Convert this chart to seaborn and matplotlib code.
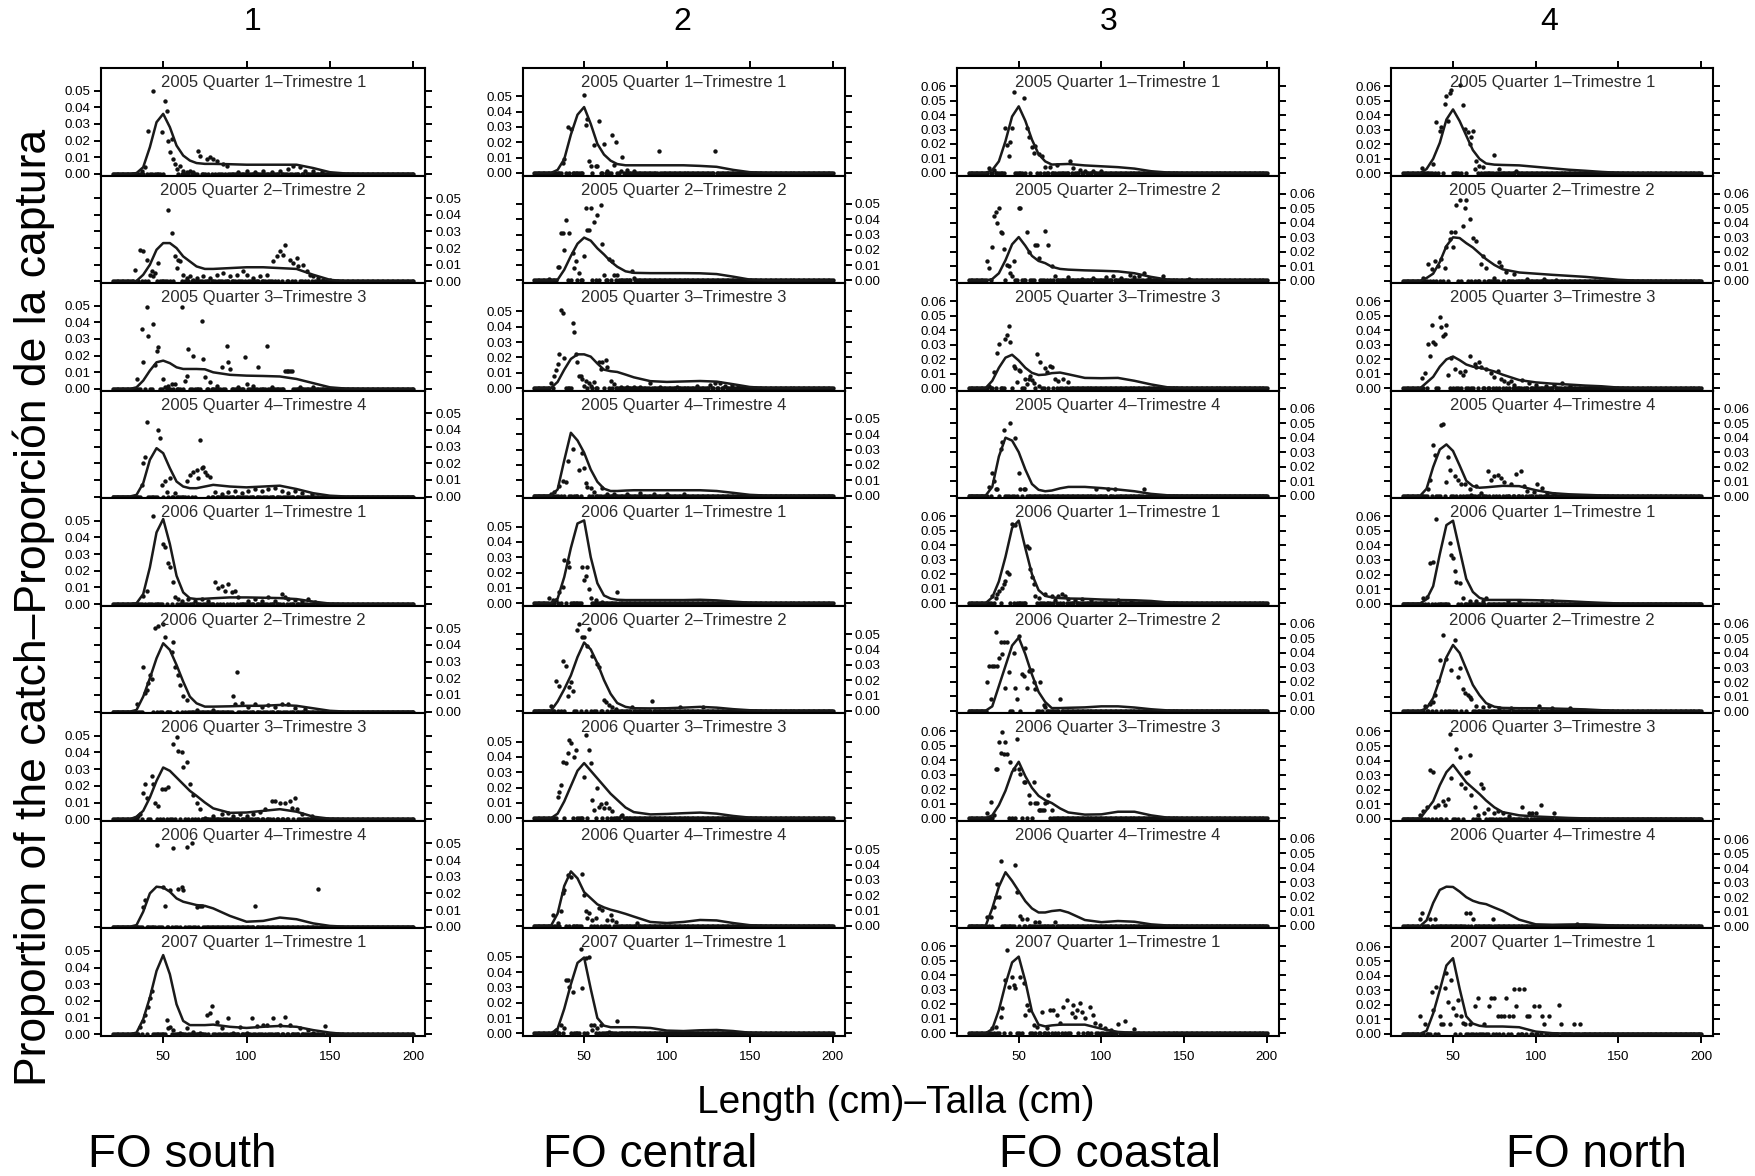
import numpy as np
import pandas as pd
import matplotlib
matplotlib.use("Agg")
import matplotlib.pyplot as plt
import seaborn as sns

sns.set_theme(style="white")
plt.rcParams["font.family"] = ["Liberation Sans", "DejaVu Sans"]

# ---------------------------------------------------------------- labels
regions = ["FO south", "FO central", "FO coastal", "FO north"]
region_numbers = ["1", "2", "3", "4"]
periods = [
    "2005 Quarter 1–Trimestre 1", "2005 Quarter 2–Trimestre 2",
    "2005 Quarter 3–Trimestre 3", "2005 Quarter 4–Trimestre 4",
    "2006 Quarter 1–Trimestre 1", "2006 Quarter 2–Trimestre 2",
    "2006 Quarter 3–Trimestre 3", "2006 Quarter 4–Trimestre 4",
    "2007 Quarter 1–Trimestre 1",
]
x_ticks = [50, 100, 150, 200]
y_ticks = [[0, .01, .02, .03, .04, .05], [0, .01, .02, .03, .04, .05],
           [0, .01, .02, .03, .04, .05, .06], [0, .01, .02, .03, .04, .05, .06]]

# length classes (cm) sampled in the catch
length_classes = np.arange(20, 201)

# lengths (cm) at which the fitted curves are tabulated
fit_lengths = [20, 30, 34, 38, 42, 46, 50, 54, 58, 62, 66, 70, 75, 80,
               90, 100, 110, 120, 130, 140, 150, 160, 170, 200]

# ---------------------------------------------------------------- fitted curves
south_fit = [
    [0, 0, .0005, .004, .016, .031, .036, .028, .017, .011, .008, .0065, .006, .006, .0058, .0055, .0055, .0055, .0055, .0035, .001, .0002, 0, 0],
    [0, 0, .0003, .004, .010, .019, .023, .023, .020, .015, .012, .009, .0075, .0075, .008, .0085, .0085, .008, .0075, .004, .001, 0, 0, 0],
    [0, 0, .001, .005, .011, .016, .017, .0155, .013, .012, .012, .012, .0118, .010, .0085, .008, .0078, .0075, .006, .0035, .001, .0002, 0, 0],
    [0, 0, .001, .008, .022, .029, .026, .017, .009, .006, .005, .005, .006, .007, .006, .0055, .006, .0065, .0045, .002, .0005, 0, 0, 0],
    [0, 0, .0005, .006, .022, .043, .051, .036, .017, .007, .0035, .003, .0032, .0035, .004, .004, .0038, .0036, .003, .0015, .0003, 0, 0, 0],
    [0, 0, .001, .009, .020, .032, .041, .037, .028, .018, .009, .005, .003, .003, .0032, .0035, .0035, .004, .0035, .002, .0005, 0, 0, 0],
    [0, 0, .0015, .005, .013, .023, .031, .029, .025, .021, .017, .014, .010, .0065, .0038, .004, .005, .006, .0045, .0015, .0003, 0, 0, 0],
    [0, 0, .001, .009, .020, .024, .0235, .021, .017, .015, .014, .013, .0125, .011, .0065, .003, .0035, .0055, .0045, .002, .0005, 0, 0, 0],
    [0, 0, .001, .009, .022, .038, .0475, .036, .018, .008, .0055, .0055, .0055, .0058, .0045, .0038, .0045, .005, .0045, .0025, .001, 0, 0, 0],
]
central_fit = [
    [0, 0, .002, .009, .025, .038, .043, .032, .019, .012, .008, .0058, .005, .005, .005, .005, .005, .0046, .004, .002, .0005, 0, 0, 0],
    [0, 0, .0005, .007, .016, .024, .028, .026, .021, .017, .0125, .009, .006, .005, .0048, .0048, .0048, .0047, .0042, .0025, .0006, 0, 0, 0],
    [0, 0, .004, .012, .019, .022, .022, .0205, .016, .012, .011, .0105, .0088, .007, .0045, .004, .0043, .0046, .0042, .0025, .0007, 0, 0, 0],
    [0, 0, .004, .023, .041, .036, .028, .017, .009, .0045, .003, .003, .0033, .0035, .0035, .0035, .0035, .0035, .003, .0018, .0005, 0, 0, 0],
    [0, 0, .003, .017, .036, .052, .054, .030, .013, .005, .003, .0022, .002, .002, .002, .002, .002, .0022, .0018, .001, .0003, 0, 0, 0],
    [0, 0, .006, .014, .023, .035, .0445, .040, .031, .020, .011, .005, .0025, .0016, .0015, .0016, .002, .0025, .002, .001, .0003, 0, 0, 0],
    [0, 0, .003, .011, .021, .031, .036, .031, .026, .021, .016, .012, .007, .004, .0025, .0028, .0033, .0037, .003, .0015, .0004, 0, 0, 0],
    [0, 0, .008, .026, .0355, .031, .022, .018, .014, .012, .0105, .0094, .0078, .006, .0025, .0018, .0025, .0038, .0035, .0018, .0004, 0, 0, 0],
    [0, 0, .003, .016, .032, .046, .0495, .029, .010, .005, .004, .004, .004, .004, .0035, .0018, .0015, .002, .0022, .0015, .0004, 0, 0, 0],
]
coastal_fit = [
    [0, 0, .002, .008, .022, .039, .046, .036, .023, .013, .008, .0058, .006, .0062, .0052, .0046, .004, .003, .0012, .0003, 0, 0, 0, 0],
    [0, 0, .001, .005, .014, .025, .030, .024, .017, .0135, .012, .0095, .008, .0075, .007, .0067, .0063, .005, .0025, .0006, 0, 0, 0, 0],
    [0, 0, .005, .014, .021, .023, .019, .014, .0105, .009, .0093, .0103, .0107, .0095, .007, .0068, .007, .005, .0025, .0005, 0, 0, 0, 0],
    [0, 0, .006, .027, .040, .038, .030, .018, .008, .004, .003, .0035, .005, .006, .006, .0052, .0042, .003, .0012, .0002, 0, 0, 0, 0],
    [0, 0, .004, .015, .032, .052, .057, .038, .020, .009, .005, .004, .0035, .0032, .003, .0025, .0022, .002, .0015, .0005, .0001, 0, 0, 0],
    [0, 0, .003, .017, .031, .045, .0505, .039, .025, .013, .006, .0018, .0018, .002, .0023, .003, .003, .0022, .001, .0002, 0, 0, 0, 0],
    [0, 0, .002, .009, .019, .032, .039, .029, .021, .0155, .0125, .0105, .0068, .004, .0025, .0027, .0045, .0045, .002, .0004, 0, 0, 0, 0],
    [0, 0, .012, .027, .037, .031, .024, .017, .012, .0092, .0092, .0102, .0108, .0092, .004, .0025, .0033, .0028, .001, .0002, 0, 0, 0, 0],
    [0, 0, .003, .016, .034, .049, .053, .036, .015, .006, .0048, .0055, .006, .006, .006, .0032, .001, .0003, 0, 0, 0, 0, 0, 0],
]
north_fit = [
    [0, 0, .003, .010, .021, .037, .044, .036, .026, .016, .010, .0068, .006, .0058, .0055, .0045, .0035, .0025, .0018, .001, .0004, .0001, 0, 0],
    [0, 0, .002, .005, .013, .024, .030, .0295, .026, .023, .019, .015, .011, .008, .0058, .005, .0042, .0035, .0028, .0018, .0008, .0002, 0, 0],
    [0, 0, .004, .008, .015, .020, .022, .0195, .0165, .015, .0142, .0133, .0117, .0095, .0058, .0042, .0033, .0027, .002, .0015, .0006, .0001, 0, 0],
    [0, 0, .005, .020, .032, .0355, .031, .021, .0105, .0068, .0057, .006, .0065, .007, .0068, .004, .002, .0012, .0008, .0004, .0001, 0, 0, 0],
    [0, 0, .003, .012, .034, .054, .057, .037, .017, .008, .004, .0025, .0025, .0025, .0025, .0023, .002, .0016, .001, .0005, .0001, 0, 0, 0],
    [0, 0, .002, .009, .022, .037, .0455, .040, .029, .018, .011, .0055, .003, .0022, .002, .002, .0018, .0015, .0012, .0006, .0001, 0, 0, 0],
    [0, 0, .006, .012, .023, .032, .037, .031, .025, .021, .017, .0125, .0078, .0045, .0023, .0015, .001, .0005, .0002, 0, 0, 0, 0, 0],
    [0, 0, .004, .016, .025, .0272, .027, .0238, .020, .0175, .016, .0152, .0128, .0105, .0045, .0013, .001, .0012, .0013, .0008, .0004, .0001, 0, 0],
    [0, 0, .002, .014, .030, .047, .052, .031, .012, .007, .0055, .005, .005, .005, .0045, .0015, .0004, .0001, 0, 0, 0, 0, 0, 0],
]

# ---------------------------------------------------------------- observed proportions
# (length cm, proportion) for length classes with catch; other classes are zero
south_obs = [
    [(37, .002), (39, .004), (41, .026), (44, .050), (49, .025), (51, .044), (52, .038), (53, .020), (54, .013), (55, .021), (56, .009), (57, .006), (58, .003), (60, .005), (62, .002), (64, .001), (66, .002), (68, .001), (71, .014), (72, .011), (76, .009), (78, .010), (80, .009), (82, .008), (86, .006), (88, .005), (95, .001), (100, .002), (105, .001), (110, .002), (115, .001), (120, .002), (125, .003), (128, .005), (132, .004), (135, .002), (140, .002), (145, .001)],
    [(33, .007), (36, .019), (38, .018), (40, .013), (42, .004), (43, .006), (44, .003), (45, .005), (47, .011), (53, .043), (55, .029), (57, .015), (58, .008), (59, .013), (60, .012), (62, .004), (64, .002), (66, .003), (68, .001), (70, .002), (74, .003), (78, .002), (82, .004), (86, .005), (90, .003), (94, .004), (98, .006), (100, .004), (104, .002), (108, .003), (112, .004), (116, .012), (118, .015), (120, .018), (122, .016), (123, .022), (126, .013), (128, .011), (130, .014), (131, .009), (134, .010), (136, .006), (138, .004), (140, .003), (143, .002), (146, .001), (150, .001)],
    [(34, .006), (37, .036), (38, .016), (40, .049), (41, .032), (44, .039), (45, .0145), (46, .023), (47, .025), (50, .006), (51, .001), (53, .002), (55, .003), (57, .003), (61, .049), (63, .0045), (64, .008), (65, .024), (68, .020), (73, .041), (74, .018), (75, .007), (78, .004), (82, .002), (85, .013), (88, .026), (89, .016), (90, .012), (95, .001), (99, .019), (100, .003), (104, .002), (107, .013), (112, .026), (115, .001), (123, .0105), (124, .0105), (125, .0105), (126, .0105), (127, .0105), (132, .001), (140, .001)],
    [(37, .007), (38, .020), (39, .024), (40, .0445), (47, .040), (48, .035), (49, .007), (51, .0095), (52, .003), (54, .011), (57, .002), (64, .0095), (66, .013), (68, .0145), (70, .016), (71, .011), (72, .034), (73, .017), (74, .018), (75, .0145), (76, .013), (78, .012), (81, .0025), (85, .0015), (89, .0025), (93, .0033), (97, .002), (101, .0033), (105, .0045), (109, .0033), (113, .0045), (117, .0053), (121, .0033), (125, .002), (129, .0033), (133, .002), (139, .0015)],
    [(38, .005), (40, .008), (44, .053), (50, .036), (51, .0345), (53, .0245), (54, .022), (56, .013), (57, .0045), (59, .003), (61, .002), (65, .003), (69, .002), (73, .003), (77, .002), (81, .013), (83, .0095), (85, .011), (87, .008), (89, .012), (91, .007), (93, .008), (95, .0045), (101, .002), (105, .003), (109, .002), (113, .0045), (117, .002), (121, .006), (123, .0045), (125, .003), (129, .0025), (133, .002), (137, .003), (141, .0015)],
    [(34, .0045), (38, .027), (39, .011), (40, .013), (41, .017), (42, .022), (43, .0195), (45, .050), (47, .0515), (50, .0525), (51, .045), (55, .036), (56, .0415), (57, .027), (59, .022), (60, .016), (62, .0095), (64, .007), (70, .001), (80, .001), (92, .0095), (93, .0045), (94, .024), (97, .005), (101, .003), (105, .0045), (109, .003), (113, .004), (117, .003), (121, .0045), (125, .0045), (129, .002), (135, .0015)],
    [(35, .002), (36, .003), (38, .016), (39, .021), (40, .013), (43, .026), (44, .021), (45, .0095), (47, .008), (49, .018), (51, .018), (53, .0195), (56, .045), (58, .0495), (59, .041), (61, .040), (62, .0315), (64, .0345), (66, .021), (68, .0145), (70, .0095), (72, .006), (75, .001), (80, .002), (85, .003), (89, .004), (92, .002), (96, .003), (100, .002), (104, .003), (108, .0045), (111, .006), (115, .011), (117, .011), (120, .0095), (123, .010), (126, .011), (127, .007), (129, .0125), (130, .006), (133, .003), (139, .002)],
    [(38, .012), (39, .016), (46, .049), (50, .024), (51, .0125), (54, .022), (56, .0475), (59, .0225), (61, .024), (62, .022), (64, .048), (67, .050), (70, .012), (72, .0125), (73, .0125), (105, .0125), (143, .0225)],
    [(36, .0045), (38, .008), (39, .0115), (41, .0165), (42, .0215), (43, .026), (52, .0085), (53, .0036), (54, .0045), (56, .0026), (60, .001), (64, .0036), (68, .0016), (72, .001), (76, .0116), (78, .0126), (79, .017), (82, .0076), (85, .0036), (89, .0096), (92, .001), (96, .0046), (100, .001), (103, .0096), (106, .005), (110, .0056), (112, .0056), (116, .0096), (120, .0056), (123, .0106), (126, .0056), (132, .0036), (137, .0026), (140, .001), (147, .005)],
]
central_obs = [
    [(37, .0068), (38, .009), (40, .0297), (42, .029), (50, .0507), (51, .031), (52, .035), (53, .008), (54, .0046), (56, .018), (57, .0046), (58, .0046), (59, .034), (62, .0187), (64, .001), (67, .0247), (68, .005), (69, .020), (72, .001), (73, .0103), (76, .002), (80, .001), (95, .0146), (129, .0146)],
    [(29, .001), (34, .009), (35, .009), (36, .031), (37, .031), (38, .020), (39, .0397), (41, .031), (43, .018), (44, .008), (45, .013), (47, .0046), (50, .016), (51, .0475), (52, .033), (53, .033), (54, .047), (56, .0381), (58, .043), (60, .049), (61, .024), (62, .0034), (65, .0138), (67, .0126), (68, .0034), (70, .0034), (79, .006), (80, .0016)],
    [(30, .0035), (32, .008), (33, .0115), (34, .016), (35, .022), (36, .0508), (37, .049), (38, .0196), (43, .0427), (44, .0363), (45, .022), (46, .0173), (47, .008), (48, .008), (49, .0058), (50, .0012), (51, .0046), (53, .0035), (54, .0012), (56, .0042), (59, .0173), (60, .0127), (61, .0173), (63, .0185), (64, .0139), (66, .0046), (68, .0028), (72, .001), (76, .001), (80, .0008), (84, .001), (90, .0035), (96, .001), (106, .001), (118, .0015), (126, .0023), (129, .0035), (132, .0035), (135, .0015), (139, .002), (143, .001)],
    [(30, .001), (32, .0024), (35, .006), (37, .0094), (39, .0087), (40, .0224), (43, .0307), (47, .0165), (49, .028), (50, .0177), (51, .0083), (52, .0059), (54, .0047), (56, .0024), (61, .0047), (64, .001), (68, .0008), (76, .001), (84, .0015), (92, .001), (100, .0008), (110, .001)],
    [(29, .0035), (31, .002), (33, .002), (35, .007), (37, .0105), (38, .028), (40, .027), (41, .0235), (49, .0235), (50, .015), (51, .0176), (52, .0235), (53, .0094), (54, .0035), (57, .0023), (61, .001), (70, .007)],
    [(30, .0033), (33, .0196), (35, .0163), (37, .0326), (39, .0293), (40, .0098), (41, .0152), (42, .0185), (43, .013), (46, .0526), (47, .0565), (49, .0478), (50, .0483), (52, .0424), (53, .0533), (55, .0359), (58, .0304), (59, .0283), (62, .007), (63, .0054), (65, .004), (67, .0022), (69, .001), (79, .0022), (91, .0065), (108, .0022), (122, .0022)],
    [(34, .0141), (35, .0174), (36, .0217), (37, .037), (39, .0359), (40, .0424), (41, .051), (42, .049), (44, .0402), (45, .0446), (50, .0272), (51, .0543), (53, .0446), (54, .0359), (55, .012), (56, .0054), (58, .0196), (59, .0076), (60, .0093), (62, .0065), (63, .0098), (65, .0065), (67, .005), (72, .0015), (73, .002)],
    [(31, .0072), (34, .0017), (36, .0094), (37, .0214), (38, .0231), (40, .0334), (42, .0319), (49, .034), (50, .0203), (51, .0094), (52, .005), (53, .0083), (55, .0039), (57, .005), (59, .0116), (61, .0105), (64, .0039), (66, .0072), (67, .0039), (69, .0028), (82, .0017)],
    [(33, .002), (36, .0054), (38, .0033), (39, .0348), (40, .0348), (41, .0304), (43, .0272), (48, .0548), (49, .0293), (51, .049), (53, .0496), (54, .0054), (55, .002), (56, .0054), (58, .0033), (60, .0054), (65, .001), (70, .0083)],
]
coastal_obs = [
    [(32, .0031), (35, .0019), (42, .031), (43, .0194), (44, .0116), (45, .0213), (46, .031), (47, .0557), (53, .0516), (55, .031), (56, .025), (58, .0177), (59, .014), (60, .0189), (62, .0128), (64, .0116), (66, .0044), (69, .0044), (73, .0056), (81, .008), (83, .0031), (87, .0019), (90, .001), (95, .0015), (100, .001)],
    [(31, .0133), (32, .0085), (34, .023), (35, .0449), (36, .0473), (37, .04), (38, .0498), (39, .0333), (40, .0328), (41, .0218), (43, .0109), (44, .0097), (45, .0049), (46, .0029), (47, .0133), (50, .0502), (51, .0502), (55, .0333), (56, .0194), (60, .0243), (61, .0243), (62, .0158), (66, .034), (68, .0243), (70, .0097), (72, .0032), (80, .0024), (88, .001), (95, .0015), (103, .0024), (107, .0032), (112, .002), (117, .0036), (120, .0025), (123, .0032), (126, .0049), (129, .0017), (137, .0032), (153, .0007)],
    [(32, .0017), (35, .0113), (37, .0245), (38, .0305), (42, .034), (43, .0365), (44, .0432), (45, .0317), (47, .0153), (48, .0137), (49, .0041), (50, .0125), (51, .012), (54, .0065), (55, .0029), (56, .0065), (57, .0084), (58, .0053), (59, .0034), (61, .0233), (62, .0017), (63, .0177), (66, .0137), (67, .0113), (69, .0149), (70, .0144), (72, .0065), (74, .0048), (77, .0065), (80, .0041)],
    [(32, .0056), (34, .0153), (35, .0104), (36, .0048), (37, .0048), (39, .0322), (40, .037), (41, .0455), (45, .050), (48, .040), (50, .0153), (51, .0048), (53, .0048), (54, .0048), (97, .0048), (104, .0048), (108, .0048), (126, .0048)],
    [(34, .0048), (36, .0036), (37, .006), (38, .0084), (40, .0108), (41, .0132), (42, .0155), (43, .0215), (44, .0203), (46, .055), (48, .054), (55, .0395), (56, .0383), (57, .0239), (58, .0179), (59, .0132), (60, .0048), (62, .0036), (66, .006), (70, .0048), (72, .0024), (74, .0048), (76, .006), (78, .0048), (80, .003), (84, .002), (88, .003), (94, .002), (102, .0015), (110, .002), (118, .001)],
    [(31, .0195), (32, .0309), (33, .008), (34, .0309), (35, .0309), (36, .0545), (37, .0309), (38, .0362), (39, .0476), (40, .0389), (41, .0476), (42, .016), (43, .0476), (44, .027), (47, .040), (48, .0156), (49, .008), (50, .0515), (52, .0252), (53, .024), (54, .0435), (55, .0156), (56, .0275), (57, .028), (58, .028), (59, .0195), (60, .0149), (63, .020), (65, .004), (66, .0023), (75, .008)],
    [(31, .0034), (33, .0114), (35, .0023), (36, .0343), (37, .0343), (38, .0526), (39, .045), (40, .0595), (41, .0446), (42, .0526), (43, .0446), (45, .0389), (47, .0343), (49, .0549), (50, .0343), (51, .0309), (53, .0252), (54, .0252), (56, .016), (57, .0103), (59, .0252), (60, .0103), (61, .0103), (62, .0057), (63, .0057), (64, .0057), (65, .0057), (66, .0103), (67, .0114), (68, .016), (70, .0057)],
    [(31, .0063), (33, .0063), (35, .013), (36, .0198), (37, .0288), (38, .0202), (39, .0445), (48, .0422), (49, .0231), (51, .0067), (52, .0045), (55, .0045), (60, .0029), (62, .0029), (72, .0029)],
    [(34, .0035), (36, .0046), (39, .0115), (40, .0173), (42, .037), (43, .0577), (44, .0323), (46, .039), (47, .0335), (48, .0312), (51, .039), (53, .0346), (54, .0127), (55, .0196), (56, .0162), (59, .0058), (61, .0046), (64, .015), (67, .0035), (69, .0162), (71, .0162), (73, .0127), (75, .0069), (77, .0185), (79, .0231), (82, .0139), (83, .0196), (84, .0115), (85, .0162), (87, .0208), (88, .015), (90, .0104), (93, .0185), (95, .0127), (96, .0069), (99, .0058), (102, .0035), (106, .002), (110, .0065), (114, .0088), (120, .0028)],
]
north_obs = [
    [(31, .0035), (38, .0065), (40, .0351), (42, .0293), (43, .0321), (45, .0479), (46, .053), (47, .0363), (48, .0553), (49, .0577), (54, .0605), (56, .0472), (57, .0302), (59, .0286), (60, .020), (61, .0247), (62, .029), (63, .003), (64, .0088), (66, .0053), (68, .0042), (75, .0123), (78, .003), (88, .0019)],
    [(32, .0023), (35, .0115), (37, .0081), (39, .0139), (41, .0104), (43, .015), (45, .0092), (46, .0231), (48, .0289), (49, .0335), (50, .0231), (51, .0335), (52, .052), (54, .0554), (56, .0381), (57, .0503), (58, .0554), (60, .0427), (62, .0296), (64, .0277), (67, .0115), (68, .0173), (70, .0092), (75, .0018), (78, .0127), (79, .0104), (82, .0058), (87, .0046), (95, .001), (105, .001), (112, .0008)],
    [(31, .0074), (33, .0108), (35, .0307), (36, .0222), (37, .0435), (38, .0321), (39, .0307), (42, .0491), (43, .042), (44, .0364), (45, .0378), (46, .0435), (47, .0094), (49, .0207), (51, .0131), (54, .0114), (56, .0094), (57, .0122), (60, .0222), (63, .0165), (64, .0151), (66, .0179), (67, .0151), (70, .0136), (73, .0108), (75, .008), (77, .0122), (79, .0065), (81, .0051), (83, .0037), (85, .0051), (87, .0023), (92, .0057), (96, .0037), (100, .0023), (106, .0017), (111, .0023), (116, .0037), (121, .0017)],
    [(35, .0051), (36, .0108), (38, .0351), (39, .028), (43, .0486), (44, .0494), (46, .0094), (47, .0266), (48, .018), (51, .0137), (53, .0108), (55, .008), (57, .008), (60, .0051), (61, .0009), (64, .0066), (67, .0023), (71, .0174), (73, .0108), (75, .0137), (77, .0143), (79, .0123), (81, .0094), (85, .008), (88, .0151), (91, .0171), (93, .0066), (95, .0037), (99, .0029), (101, .0086), (104, .0057), (107, .0023), (111, .0015)],
    [(32, .0037), (34, .0046), (36, .028), (38, .0286), (40, .058), (48, .0417), (49, .0337), (50, .0314), (51, .0223), (52, .0151), (54, .0143), (56, .0037), (60, .002), (64, .002), (68, .0015), (70, .0037), (83, .002), (90, .002), (104, .002), (110, .002)],
    [(33, .0037), (36, .0051), (38, .0066), (39, .0109), (41, .0209), (42, .0351), (44, .0523), (46, .036), (49, .0286), (51, .0486), (53, .0237), (54, .0294), (56, .0151), (57, .0123), (59, .0114), (60, .0094), (61, .008), (64, .0037), (68, .0029), (72, .0037), (78, .0023), (85, .0023), (102, .0037), (110, .0023), (121, .0023)],
    [(30, .0023), (32, .0051), (34, .008), (36, .0337), (38, .0323), (39, .008), (41, .0094), (44, .0123), (45, .0094), (47, .0137), (48, .058), (49, .028), (52, .048), (54, .0423), (55, .0237), (57, .0209), (58, .0314), (59, .0323), (60, .0437), (61, .0166), (63, .008), (65, .0023), (67, .0237), (68, .0209), (69, .0037), (71, .0066), (75, .0037), (77, .0051), (80, .0037), (84, .0017), (92, .008), (96, .0037), (98, .0037), (100, .0037), (103, .0094), (111, .0037)],
    [(30, .0047), (31, .0088), (36, .0047), (39, .0047), (58, .0088), (60, .0088), (62, .0047), (74, .0047), (125, .0014)],
    [(30, .0124), (33, .0069), (37, .029), (38, .0165), (40, .032), (42, .0119), (43, .0069), (44, .0069), (45, .0313), (46, .0416), (47, .0222), (48, .0069), (49, .037), (50, .0176), (52, .013), (53, .0229), (55, .0119), (56, .0073), (57, .0069), (60, .0069), (63, .0188), (65, .0245), (69, .0069), (72, .0188), (73, .0245), (75, .0245), (77, .0124), (79, .0124), (81, .0124), (82, .0245), (84, .0124), (86, .0124), (87, .0307), (88, .0188), (90, .0307), (93, .0307), (95, .0124), (96, .0124), (99, .0188), (102, .0188), (104, .0124), (105, .0069), (108, .0124), (114, .02), (115, .0069), (123, .0069), (127, .0069)],
]

fits = [south_fit, central_fit, coastal_fit, north_fit]
observations = [south_obs, central_obs, coastal_obs, north_obs]

# ---------------------------------------------------------------- layout (pixels)
W, H = 1756, 1176
col_left = [101.2, 522.5, 957.2, 1391.5]
col_width = [324.0, 322.0, 321.5, 321.5]
panel_top, panel_h = 68.0, 107.55
y_limits = [(-0.001, 0.0635), (-0.0017, 0.0685), (-0.0018, 0.0725), (-0.0015, 0.0725)]
header_x = [253, 682, 1109, 1549]
region_x = [182, 650, 1110, 1596]
ink = "#111111"

fig = plt.figure(figsize=(W / 100, H / 100), dpi=100)
fig.patch.set_facecolor("white")

for c in range(4):
    for r in range(9):
        bottom_px = panel_top + (r + 1) * panel_h
        ax = fig.add_axes([col_left[c] / W, 1 - bottom_px / H, col_width[c] / W, panel_h / H])

        # observed proportions: catch classes plus zero-catch classes
        obs = observations[c][r]
        caught = {l for l, _ in obs}
        obs_len = [l for l, _ in obs] + [l for l in length_classes if l not in caught]
        obs_val = [v for _, v in obs] + [0.0] * (len(obs_len) - len(obs))
        obs_df = pd.DataFrame({"length": obs_len, "proportion": obs_val})
        fit_df = pd.DataFrame({"length": fit_lengths, "proportion": fits[c][r]})

        sns.scatterplot(data=obs_df, x="length", y="proportion", ax=ax, s=10,
                        color=ink, linewidth=0, legend=False, zorder=3)
        sns.lineplot(data=fit_df, x="length", y="proportion", ax=ax, color="#1a1a1a",
                     lw=1.8, estimator=None, sort=False, zorder=4)

        ax.set_xlim(12.8, 207.2)
        ax.set_ylim(*y_limits[c])
        ax.set_xlabel("")
        ax.set_ylabel("")
        ax.set_facecolor("white")
        for sp in ax.spines.values():
            sp.set_visible(True)
            sp.set_color("black")
            sp.set_linewidth(1.5)

        ax.set_yticks(y_ticks[c])
        ax.set_yticklabels([f"{t:.2f}" for t in y_ticks[c]])
        ax.set_xticks(x_ticks)
        ax.set_xticklabels([str(t) for t in x_ticks])
        ax.tick_params(axis="both", direction="out", length=5, width=1.4,
                       colors="black", labelsize=9.6, pad=2.5)
        ax.tick_params(axis="y", left=True, right=True,
                       labelleft=(r % 2 == 0), labelright=(r % 2 == 1))
        ax.tick_params(axis="x", top=(r == 0), bottom=(r == 8),
                       labeltop=False, labelbottom=(r == 8), pad=6)
        ax.grid(False)

        ax.text(0.5, 1 - 7 / panel_h, periods[r], transform=ax.transAxes,
                ha="center", va="top", fontsize=12, color="#2b2b2b", zorder=5)

    fig.text(header_x[c] / W, 1 - 22 / H, region_numbers[c], ha="center",
             va="center", fontsize=23, color="black")
    fig.text(region_x[c] / W, 1 - 1155 / H, regions[c], ha="center",
             va="center", fontsize=33, color="black")

fig.text(34 / W, 1 - 607 / H, "Proportion of the catch–Proporción de la captura",
         rotation=90, ha="center", va="center", fontsize=32, color="black")
fig.text(896 / W, 1 - 1103 / H, "Length (cm)–Talla (cm)", ha="center",
         va="center", fontsize=28, color="black")

fig.savefig("out.png", dpi=100, facecolor="white")
